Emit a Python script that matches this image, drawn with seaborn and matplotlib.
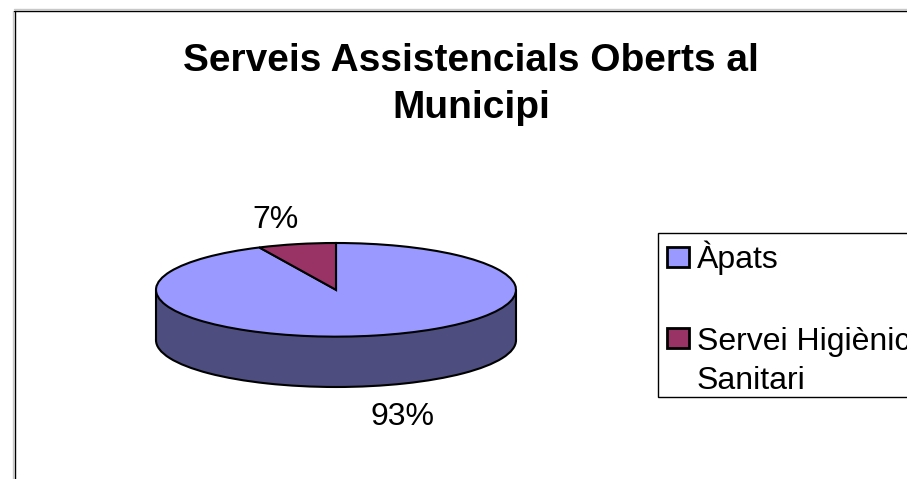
import seaborn as sns
import matplotlib.pyplot as plt
from matplotlib.legend_handler import HandlerPatch
from matplotlib.lines import Line2D
from matplotlib.patches import Patch, Rectangle

# Data
categories = ['Àpats', 'Servei Higiènic\nSanitari']
values = [93, 7]
colors = ['#9999FF', '#993366']
title = 'Serveis Assistencials Oberts al\nMunicipi'

W, H = 907, 479
DEPTH = 50 / 46.5  # height of the pie wall, in pie radii

sns.set_theme(style='white')
plt.rcParams['font.family'] = ['Liberation Sans', 'DejaVu Sans']
sns.set_palette(colors)

fig = plt.figure(figsize=(W / 100, H / 100), dpi=100, facecolor='white')


def fx(px):
    return px / W


def fy(px):
    return 1 - px / H


# legend swatch that can sit on the first line of a two line label
def swatch_up(shift):
    def make(legend, orig_handle, xdescent, ydescent, width, height, fontsize):
        return Rectangle((-xdescent, -ydescent + shift), width, height)
    return HandlerPatch(patch_func=make)


# chart frame, right and bottom sides run off the picture
fig.add_artist(Line2D([fx(13), fx(13)], [fy(11), 0], color='#c8c8c8', lw=1))
fig.add_artist(Line2D([fx(14.5), fx(14.5)], [fy(10.5), 0], color='black', lw=1))
fig.add_artist(Line2D([fx(14), 1], [fy(9), fy(9)], color='#c8c8c8', lw=1))
fig.add_artist(Line2D([fx(14), 1], [fy(10.5), fy(10.5)], color='black', lw=1))

# axes box is the bounding box of the tilted pie
ax = fig.add_axes([fx(156), fy(387), fx(360), 144 / H])

# wall of the pie: lower disc plus a rectangle up to the top disc
edge = dict(edgecolor='black', linewidth=1.5)
ax.pie([1], center=(0, -DEPTH), colors=['#4D4D80'], wedgeprops=edge)
ax.add_patch(Rectangle((-1, -DEPTH), 2, DEPTH, facecolor='#4D4D80', edgecolor='none', zorder=2))
ax.plot([-1, -1], [-DEPTH, 0], color='black', lw=1.5, zorder=3, clip_on=False)
ax.plot([1, 1], [-DEPTH, 0], color='black', lw=1.5, zorder=3, clip_on=False)

# top of the pie
wedges = ax.pie(values, startangle=90, counterclock=False, colors=colors, wedgeprops=edge)[0]
for w in wedges:
    w.set_zorder(4)
for p in ax.patches:
    p.set_clip_on(False)

ax.set_aspect('auto')
ax.set_xlim(-1, 1)
ax.set_ylim(-1 - DEPTH, 1)
ax.axis('off')

fig.text(fx(471), fy(84.5), title, ha='center', va='center', fontsize=28,
         fontweight='bold', color='black', linespacing=1.41)
fig.text(fx(275), fy(220), f'{values[1]}%', ha='center', va='center', fontsize=23, color='black')
fig.text(fx(403), fy(417), f'{values[0]}%', ha='center', va='center', fontsize=23, color='black')

# legend frame on its own, it runs off the right side like the chart frame
fig.add_artist(Rectangle((fx(658), fy(397)), fx(260), 164 / H, facecolor='white',
                         edgecolor='black', linewidth=1, clip_on=False))

handles = [Patch(facecolor=c, edgecolor='black', linewidth=2) for c in colors]
leg = fig.legend(handles, categories, loc='upper left', bbox_to_anchor=(fx(659), fy(233)),
                 fontsize=23, frameon=False,
                 handlelength=0.7, handleheight=0.62, handletextpad=0.25, labelspacing=1.63,
                 borderpad=0.24, borderaxespad=0, labelcolor='black',
                 handler_map={handles[0]: swatch_up(0), handles[1]: swatch_up(17)})
for t in leg.get_texts():
    t.set_linespacing(1.37)
leg.set_zorder(5)

fig.savefig('out.png', dpi=100)
